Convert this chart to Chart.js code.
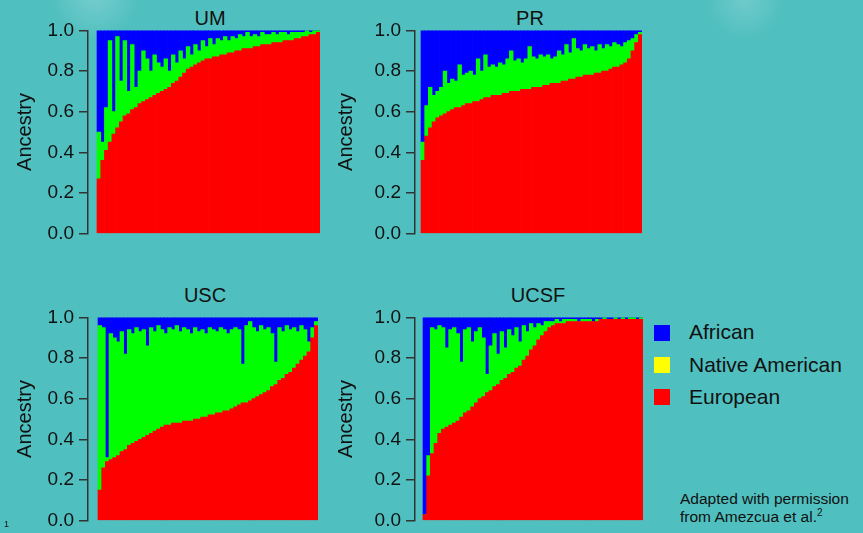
<!DOCTYPE html>
<html lang="en">
<head>
<meta charset="UTF-8">
<title>Ancestry by site</title>
<script src="https://cdn.jsdelivr.net/npm/chart.js"></script>
<style>
    body { margin: 0; font-family: 'Liberation Sans', Arial, sans-serif; }
    #page {
        position: relative; width: 863px; height: 533px; overflow: hidden;
        background:
            radial-gradient(circle at 95px -5px, rgba(255,255,255,0.22), rgba(255,255,255,0) 45px),
            radial-gradient(circle at 745px 0px, rgba(255,255,255,0.18), rgba(255,255,255,0) 40px),
            #50BFBF;
        color: #111;
    }
    canvas { position: absolute; }
    .title { position: absolute; font-size: 20px; line-height: 20px; width: 100px; text-align: center; }
    .sw { position: absolute; left: 654px; width: 16px; height: 16px; }
    .lg { position: absolute; left: 689px; font-size: 21px; line-height: 21px; white-space: nowrap; }
    .note { position: absolute; left: 680px; font-size: 15.5px; line-height: 18px; white-space: nowrap; }
    .note sup { font-size: 10px; vertical-align: 6px; line-height: 0; }
</style>
</head>
<body>
<div id="page">
    <div class="title" style="left:160px; top:8px;">UM</div>
    <div class="title" style="left:480px; top:8px;">PR</div>
    <div class="title" style="left:155px; top:285px;">USC</div>
    <div class="title" style="left:488px; top:285px;">UCSF</div>

    <canvas id="um" width="322" height="236" style="left:0px; top:14px;"></canvas>
    <canvas id="pr" width="317" height="236" style="left:327px; top:14px;"></canvas>
    <canvas id="usc" width="320" height="236" style="left:0px; top:301px;"></canvas>
    <canvas id="ucsf" width="318" height="236" style="left:327px; top:301px;"></canvas>

    <div class="sw" style="top:325px; background:#0000FF;"></div>
    <div class="sw" style="top:357px; background:#FFFF00;"></div>
    <div class="sw" style="top:389px; background:#FF0000;"></div>
    <div class="lg" style="top:321px;">African</div>
    <div class="lg" style="top:354px;">Native American</div>
    <div class="lg" style="top:386px;">European</div>

    <div class="note" style="top:490px;">Adapted with permission<br>from Amezcua et al.<sup>2</sup></div>
    <div style="position:absolute; left:4px; top:519px; font-size:9px;">1</div>
</div>

<script>
// ancestry proportions per individual, sorted by European share
const umEuropean = [0.27,0.36,0.41,0.45,0.49,0.52,0.55,0.58,0.59,0.61, 0.62,0.64,0.65,0.66,0.67,0.68,0.69,0.70,0.71,0.72,
    0.74,0.75,0.77,0.79,0.81,0.82,0.83,0.84,0.85,0.86, 0.86,0.87,0.87,0.88,0.88,0.89,0.89,0.90,0.90,0.91,
    0.91,0.91,0.92,0.92,0.93,0.93,0.93,0.94,0.94,0.94, 0.95,0.95,0.95,0.96,0.96,0.97,0.97,0.98,0.98,0.99];
const umNative = [0.23,0.09,0.21,0.50,0.11,0.45,0.20,0.37,0.11,0.32, 0.10,0.16,0.25,0.20,0.13,0.20,0.15,0.12,0.15,0.08,
    0.14,0.09,0.13,0.07,0.11,0.06,0.10,0.06,0.10,0.06, 0.10,0.06,0.09,0.07,0.09,0.06,0.08,0.06,0.08,0.06,
    0.08,0.06,0.06,0.05,0.06,0.05,0.05,0.05,0.04,0.05, 0.04,0.03,0.04,0.03,0.03,0.02,0.03,0.01,0.02,0.01];
const umAfrican = [0.50,0.55,0.38,0.05,0.40,0.03,0.25,0.05,0.30,0.07, 0.28,0.20,0.10,0.14,0.20,0.12,0.16,0.18,0.14,0.20,
    0.12,0.16,0.10,0.14,0.08,0.12,0.07,0.10,0.05,0.08, 0.04,0.07,0.04,0.05,0.03,0.05,0.03,0.04,0.02,0.03,
    0.01,0.03,0.02,0.03,0.01,0.02,0.02,0.01,0.02,0.01, 0.01,0.02,0.01,0.01,0.01,0.01,0.00,0.01,0.00,0.00];

const prEuropean = [0.36,0.48,0.52,0.55,0.57,0.58,0.59,0.60,0.61,0.62, 0.62,0.63,0.64,0.64,0.65,0.65,0.66,0.67,0.67,0.68,
    0.68,0.68,0.69,0.69,0.70,0.70,0.70,0.71,0.71,0.71, 0.72,0.72,0.72,0.73,0.73,0.74,0.74,0.74,0.75,0.75,
    0.76,0.76,0.77,0.77,0.78,0.78,0.78,0.79,0.79,0.80, 0.80,0.81,0.82,0.82,0.83,0.84,0.86,0.90,0.94,0.98];
const prNative = [0.09,0.15,0.20,0.13,0.13,0.14,0.21,0.14,0.15,0.13, 0.21,0.15,0.15,0.16,0.13,0.21,0.14,0.21,0.15,0.15,
    0.14,0.16,0.14,0.17,0.20,0.15,0.16,0.13,0.15,0.21, 0.15,0.14,0.16,0.14,0.15,0.12,0.13,0.16,0.13,0.18,
    0.13,0.20,0.14,0.13,0.15,0.13,0.14,0.11,0.14,0.11, 0.13,0.11,0.12,0.11,0.09,0.10,0.09,0.06,0.04,0.01];
const prAfrican = [0.55,0.37,0.28,0.32,0.30,0.28,0.20,0.26,0.24,0.25, 0.17,0.22,0.21,0.20,0.22,0.14,0.20,0.12,0.18,0.17,
    0.18,0.16,0.17,0.14,0.10,0.15,0.14,0.16,0.14,0.08, 0.13,0.14,0.12,0.13,0.12,0.14,0.13,0.10,0.12,0.07,
    0.11,0.04,0.09,0.10,0.07,0.09,0.08,0.10,0.07,0.09, 0.07,0.08,0.06,0.07,0.08,0.06,0.05,0.04,0.02,0.01];

const uscEuropean = [0.15,0.26,0.29,0.30,0.31,0.32,0.34,0.35,0.37,0.38, 0.39,0.40,0.41,0.42,0.43,0.44,0.45,0.46,0.47,0.47,
    0.48,0.48,0.48,0.49,0.49,0.49,0.50,0.50,0.51,0.51, 0.52,0.52,0.53,0.53,0.54,0.54,0.55,0.56,0.57,0.58,
    0.58,0.59,0.60,0.61,0.62,0.63,0.64,0.66,0.67,0.69, 0.70,0.72,0.73,0.75,0.77,0.79,0.81,0.83,0.90,0.96];
const uscNative = [0.81,0.69,0.02,0.62,0.59,0.56,0.59,0.47,0.57,0.54, 0.56,0.53,0.53,0.44,0.52,0.49,0.51,0.48,0.45,0.48,
    0.46,0.48,0.45,0.46,0.45,0.43,0.45,0.43,0.43,0.41, 0.43,0.42,0.40,0.42,0.40,0.38,0.39,0.39,0.37,0.19,
    0.38,0.39,0.35,0.32,0.34,0.31,0.31,0.26,0.11,0.26, 0.23,0.24,0.21,0.20,0.16,0.17,0.13,0.05,0.05,0.02];
const uscAfrican = [0.04,0.05,0.69,0.08,0.10,0.12,0.07,0.18,0.06,0.08, 0.05,0.07,0.06,0.14,0.05,0.07,0.04,0.06,0.08,0.05,
    0.06,0.04,0.07,0.05,0.06,0.08,0.05,0.07,0.06,0.08, 0.05,0.06,0.07,0.05,0.06,0.08,0.06,0.05,0.06,0.23,
    0.04,0.02,0.05,0.07,0.04,0.06,0.05,0.08,0.22,0.05, 0.07,0.04,0.06,0.05,0.07,0.04,0.06,0.12,0.05,0.02];

const ucsfEuropean = [0.03,0.22,0.33,0.38,0.43,0.45,0.46,0.47,0.48,0.49, 0.51,0.53,0.54,0.56,0.58,0.60,0.61,0.63,0.64,0.66,
    0.67,0.69,0.70,0.72,0.73,0.75,0.76,0.79,0.81,0.84, 0.86,0.89,0.91,0.93,0.95,0.96,0.97,0.97,0.97,0.98,
    0.98,0.98,0.98,0.98,0.98,0.98,0.98,0.98,0.99,0.99, 0.99,0.99,0.99,0.99,0.99,0.99,0.99,0.99,0.99,0.99];
const ucsfNative = [0.00,0.10,0.62,0.56,0.53,0.50,0.39,0.47,0.47,0.43, 0.27,0.41,0.41,0.32,0.35,0.35,0.29,0.09,0.22,0.26,
    0.15,0.24,0.15,0.22,0.18,0.20,0.12,0.17,0.12,0.13, 0.09,0.08,0.05,0.05,0.03,0.02,0.02,0.01,0.02,0.01,
    0.01,0.01,0.00,0.01,0.01,0.01,0.00,0.01,0.00,0.01, 0.00,0.00,0.01,0.00,0.01,0.00,0.01,0.01,0.00,0.01];
const ucsfAfrican = [0.97,0.68,0.05,0.06,0.04,0.05,0.15,0.06,0.05,0.08, 0.22,0.06,0.05,0.12,0.07,0.05,0.10,0.28,0.14,0.08,
    0.18,0.07,0.15,0.06,0.09,0.05,0.12,0.04,0.07,0.03, 0.05,0.03,0.04,0.02,0.02,0.02,0.01,0.02,0.01,0.01,
    0.01,0.01,0.02,0.01,0.01,0.01,0.02,0.01,0.01,0.00, 0.01,0.01,0.00,0.01,0.00,0.01,0.00,0.00,0.01,0.00];

const yTicks = [0, 0.2, 0.4, 0.6, 0.8, 1.0];

Chart.defaults.font.family = "'Liberation Sans', Arial, sans-serif";

// gapPx = space between the axis line and the first bar, titlePad moves "Ancestry"
function drawPanel(id, european, nativeAmerican, african, gapPx, titlePad) {
    const canvas = document.getElementById(id);
    const n = european.length;
    const areaWidth = canvas.width - 88 - 2;
    const gap = n * gapPx / (areaWidth - gapPx);
    const individuals = european.map((v, i) => i);

    new Chart(canvas, {
        type: 'bar',
        data: {
            labels: individuals,
            datasets: [
                { label: 'European', data: european, backgroundColor: '#FF0000' },
                { label: 'Native American', data: nativeAmerican, backgroundColor: '#00FF00' },
                { label: 'African', data: african, backgroundColor: '#0000FF' }
            ]
        },
        options: {
            responsive: false,
            animation: false,
            events: [],
            layout: { padding: { top: 14, bottom: 13, left: 0, right: 2 } },
            datasets: { bar: { barPercentage: 1, categoryPercentage: 1, borderWidth: 0 } },
            plugins: { legend: { display: false }, tooltip: { enabled: false } },
            scales: {
                x: {
                    type: 'linear', display: false, stacked: true, offset: false,
                    min: -0.5 - gap, max: n - 0.5,
                    ticks: { display: false },
                    afterFit: s => { s.paddingLeft = 0; s.paddingRight = 0; }
                },
                y: {
                    stacked: true, min: 0, max: 1,
                    afterBuildTicks: s => { s.ticks = yTicks.map(v => ({ value: v })); },
                    afterFit: s => { s.width = 88; },
                    ticks: { callback: v => Number(v).toFixed(1), color: '#111', padding: 5, font: { size: 19 } },
                    grid: { drawOnChartArea: false, tickLength: 9, color: '#333', lineWidth: 1.5 },
                    border: { display: true, color: '#333', width: 1.5 },
                    title: { display: true, text: 'Ancestry', color: '#111', font: { size: 20 }, padding: { top: titlePad, bottom: 0 } }
                }
            }
        }
    });
}

drawPanel('um', umEuropean, umNative, umAfrican, 9, 13);
drawPanel('pr', prEuropean, prNative, prAfrican, 6, 7);
drawPanel('usc', uscEuropean, uscNative, uscAfrican, 10, 13);
drawPanel('ucsf', ucsfEuropean, ucsfNative, ucsfAfrican, 8, 7);
</script>
</body>
</html>
